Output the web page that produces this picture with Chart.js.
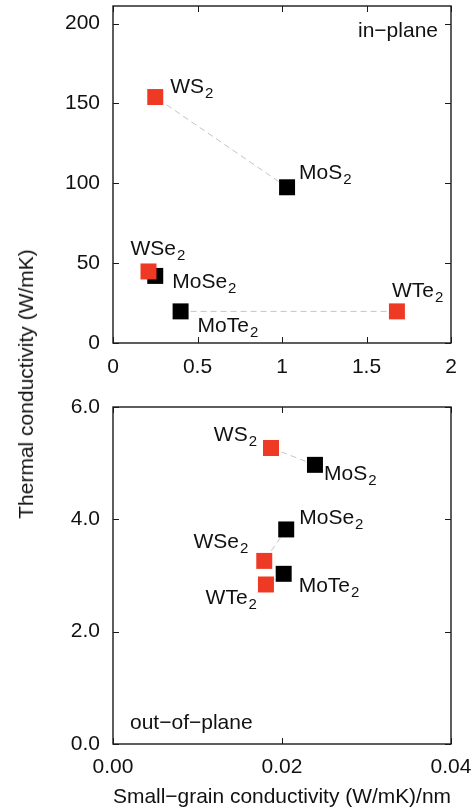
<!DOCTYPE html>
<html lang="en">

<head>
  <meta charset="UTF-8">
  <title>Thermal conductivity vs small-grain conductivity</title>
  <script src="https://cdn.jsdelivr.net/npm/chart.js"></script>
  <style>
    body {
      margin: 0;
      background: #fff;
      font-family: 'Liberation Sans', Arial, sans-serif;
    }

    #wrap {
      position: relative;
      width: 475px;
      height: 812px;
      overflow: hidden;
    }

    canvas {
      position: absolute;
      left: 0;
    }

    #inPlane { top: 0; }
    #outPlane { top: 385px; }

    #ytitle {
      position: absolute;
      left: 26px;
      top: 384px;
      transform: translate(-50%, -50%) rotate(-90deg);
      white-space: nowrap;
      font-size: 21px;
      color: #111;
    }
  </style>
</head>

<body>
  <div id="wrap">
    <canvas id="inPlane" width="475" height="385"></canvas>
    <canvas id="outPlane" width="475" height="427"></canvas>
    <div id="ytitle">Thermal conductivity (W/mK)</div>
  </div>

  <script>
    // compounds: Mo series (black) and W series (red), paired by chalcogen
    const moNames = ['MoS2', 'MoSe2', 'MoTe2'];
    const wNames = ['WS2', 'WSe2', 'WTe2'];

    // in-plane panel
    const inMoX = [1.03, 0.25, 0.40];
    const inMoY = [97.5, 42, 19.8];
    const inWX = [0.25, 0.21, 1.68];
    const inWY = [154, 44.8, 19.8];

    // out-of-plane panel
    const outMoX = [0.0239, 0.0205, 0.0202];
    const outMoY = [4.97, 3.82, 3.03];
    const outWX = [0.0187, 0.0179, 0.0181];
    const outWY = [5.27, 3.26, 2.84];

    // tick values
    const inXTicks = [0, 0.5, 1, 1.5, 2];
    const inYTicks = [0, 50, 100, 150, 200];
    const outXTicks = [0, 0.02, 0.04];
    const outYTicks = [0, 2, 4, 6];

    const FONT = "'Liberation Sans', Arial, sans-serif";
    const SIZE = 21;
    const RED = '#ee3a24';

    // where each name sits relative to its marker: [dx, dy(baseline), align]
    const inMoPlace = [[12, -8, 'left'], [17, 12, 'left'], [17, 21, 'left']];
    const inWPlace = [[15, -4, 'left'], [-18, -16, 'left'], [-5, -14, 'left']];
    const outMoPlace = [[9, 15, 'left'], [13, -5, 'left'], [15, 18, 'left']];
    const outWPlace = [[-14, -7, 'right'], [-16, -13, 'right'], [-9, 20, 'right']];

    const pts = (xs, ys) => xs.map((x, i) => ({ x, y: ys[i] }));

    // chemical formula with the trailing digit as subscript
    function drawFormula(ctx, text, x, y, align) {
      const base = text.slice(0, -1);
      const sub = text.slice(-1);
      ctx.font = `${SIZE}px ${FONT}`;
      const wb = ctx.measureText(base).width;
      ctx.font = `15px ${FONT}`;
      const ws = ctx.measureText(sub).width;
      const x0 = align === 'right' ? x - wb - ws - 1 : x;
      ctx.textAlign = 'left';
      ctx.textBaseline = 'alphabetic';
      ctx.font = `${SIZE}px ${FONT}`;
      ctx.fillText(base, x0, y);
      ctx.font = `15px ${FONT}`;
      ctx.fillText(sub, x0 + wb + 1, y + 5);
    }

    // box frame, inward ticks on all sides, point names and panel note
    const framePlugin = {
      id: 'frame',
      afterDraw(chart, args, opts) {
        const { ctx, chartArea: a } = chart;
        const xs = chart.scales.x;
        const ys = chart.scales.y;
        ctx.save();
        ctx.strokeStyle = '#1a1a1a';
        ctx.lineWidth = 1.4;
        ctx.strokeRect(a.left, a.top, a.right - a.left, a.bottom - a.top);

        ctx.lineWidth = 1;
        ctx.beginPath();
        xs.ticks.forEach(t => {
          const px = Math.round(xs.getPixelForValue(t.value)) + 0.5;
          ctx.moveTo(px, a.bottom); ctx.lineTo(px, a.bottom - 6);
          ctx.moveTo(px, a.top); ctx.lineTo(px, a.top + 6);
        });
        ys.ticks.forEach(t => {
          const py = Math.round(ys.getPixelForValue(t.value)) + 0.5;
          ctx.moveTo(a.left, py); ctx.lineTo(a.left + 6, py);
          ctx.moveTo(a.right, py); ctx.lineTo(a.right - 6, py);
        });
        ctx.stroke();

        ctx.fillStyle = '#111';
        chart.data.datasets.forEach(ds => {
          if (!ds.names) return;
          ds.data.forEach((p, i) => {
            const [dx, dy, align] = ds.place[i];
            const px = xs.getPixelForValue(p.x);
            const py = ys.getPixelForValue(p.y);
            drawFormula(ctx, ds.names[i], px + dx, py + dy, align);
          });
        });

        const n = opts.note;
        ctx.font = `${SIZE}px ${FONT}`;
        ctx.textBaseline = 'alphabetic';
        ctx.textAlign = n.align;
        const nx = n.align === 'right' ? a.right + n.dx : a.left + n.dx;
        const ny = n.from === 'top' ? a.top + n.dy : a.bottom + n.dy;
        ctx.fillText(n.text, nx, ny);
        ctx.restore();
      }
    };

    function makePanel(id, cfg) {
      const datasets = [
        {
          data: pts(cfg.wX, cfg.wY), names: wNames, place: cfg.wPlace,
          backgroundColor: RED, pointRadius: 11.3, pointBorderWidth: 0, pointStyle: 'rect'
        },
        {
          data: pts(cfg.moX, cfg.moY), names: moNames, place: cfg.moPlace,
          backgroundColor: '#000', pointRadius: 11.3, pointBorderWidth: 0, pointStyle: 'rect'
        }
      ];
      // dashed connectors between Mo and W compounds of the same chalcogen
      moNames.forEach((_, i) => {
        datasets.push({
          data: [{ x: cfg.moX[i], y: cfg.moY[i] }, { x: cfg.wX[i], y: cfg.wY[i] }],
          showLine: true, pointRadius: 0, borderColor: '#c4c4c4',
          borderWidth: 1, borderDash: [6, 4]
        });
      });

      const tickFont = { family: FONT, size: SIZE };
      new Chart(document.getElementById(id), {
        type: 'scatter',
        data: { datasets },
        options: {
          responsive: false,
          animation: false,
          layout: {
            autoPadding: false,
            padding: { left: 0, right: 24, top: cfg.padTop, bottom: 0 }
          },
          plugins: {
            legend: { display: false },
            tooltip: { enabled: false },
            frame: { note: cfg.note }
          },
          scales: {
            x: {
              type: 'linear', min: cfg.xTicks[0], max: cfg.xTicks[cfg.xTicks.length - 1],
              grid: { display: false, drawTicks: false },
              border: { display: false },
              ticks: { padding: cfg.xPad, color: '#111', font: tickFont, maxRotation: 0, callback: cfg.xFmt },
              title: cfg.xTitle,
              afterBuildTicks: s => { s.ticks = cfg.xTicks.map(v => ({ value: v })); },
              afterFit: s => {
                s.height = cfg.xHeight;
                s.paddingLeft = 0; s.paddingRight = 0;
              }
            },
            y: {
              type: 'linear', min: 0, max: cfg.yMax,
              grid: { display: false, drawTicks: false },
              border: { display: false },
              ticks: { padding: 13, color: '#111', font: tickFont, callback: cfg.yFmt },
              afterBuildTicks: s => { s.ticks = cfg.yTicks.map(v => ({ value: v })); },
              afterFit: s => {
                s.width = 113;
                s.paddingTop = 0; s.paddingBottom = 0;
              }
            }
          }
        },
        plugins: [framePlugin]
      });
    }

    makePanel('inPlane', {
      moX: inMoX, moY: inMoY, wX: inWX, wY: inWY,
      moPlace: inMoPlace, wPlace: inWPlace,
      xTicks: inXTicks, yTicks: inYTicks, yMax: 211,
      xFmt: v => String(v), yFmt: v => String(v),
      padTop: 6, xHeight: 42, xPad: 12,
      xTitle: { display: false },
      note: { text: 'in\u2212plane', align: 'right', dx: -13, from: 'top', dy: 31 }
    });

    makePanel('outPlane', {
      moX: outMoX, moY: outMoY, wX: outWX, wY: outWY,
      moPlace: outMoPlace, wPlace: outWPlace,
      xTicks: outXTicks, yTicks: outYTicks, yMax: 6,
      xFmt: v => v.toFixed(2), yFmt: v => v.toFixed(1),
      padTop: 22, xHeight: 68, xPad: 11,
      xTitle: {
        display: true, text: 'Small\u2212grain conductivity (W/mK)/nm',
        color: '#111', font: { family: FONT, size: SIZE }, padding: { top: 0, bottom: 2 }
      },
      note: { text: 'out\u2212of\u2212plane', align: 'left', dx: 17, from: 'bottom', dy: -15 }
    });
  </script>
</body>

</html>
